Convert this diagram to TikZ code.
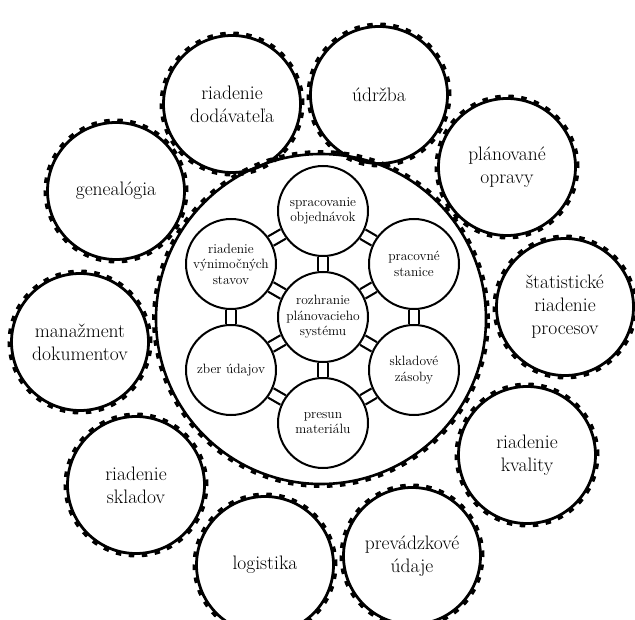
\documentclass[tikz,border=0pt]{standalone}
\usepackage{fontspec}
\usepackage{tikz}
\usetikzlibrary{backgrounds}

\begin{document}
\begin{tikzpicture}[x=1pt, y=-1pt,
    gear/.style={circle, draw, line width=2.8pt, minimum size=137pt, inner sep=0pt,
      align=center, font=\fontsize{19.5}{23}\selectfont},
    teeth/.style={line width=4pt, dash pattern=on 5.5pt off 7.5pt},
    hub/.style={circle, draw, line width=2.6pt, minimum size=330pt},
    cell/.style={circle, draw, fill=white, line width=2pt, minimum size=90pt, inner sep=0pt,
      align=center, font=\fontsize{13.5}{15.5}\selectfont},
    link/.style={double, double distance=8.5pt, line width=2.2pt}]
    \useasboundingbox (0,0) rectangle (635,620);

    % centralny kruh
    \node [hub] (B) at (321,319) {};
    \draw [teeth] (B.center) circle (167pt);

    % vonkajsie kolesa
    \node [gear] (dod) at (232,104) {riadenie\\dodávateľa};
    \node [gear] (udr) at (379,95) {údržba};
    \node [gear] (opr) at (507,167) {plánované\\opravy};
    \node [gear] (spc) at (565,307) {štatistické\\riadenie\\procesov};
    \node [gear] (kva) at (527,455) {riadenie\\kvality};
    \node [gear] (pre) at (412,556) {prevádzkové\\údaje};
    \node [gear] (log) at (265,565) {logistika};
    \node [gear] (skl) at (136,485) {riadenie\\skladov};
    \node [gear] (dok) at (80,342) {manažment\\dokumentov};
    \node [gear] (gen) at (116,191) {genealógia};

    % zuby
    \foreach \g in {dod,udr,opr,spc,kva,pre,log,skl,dok,gen}
      \draw [teeth] (\g.center) circle (70.5pt);

    % vnutorne moduly
    \node [cell] (roz) at (323,317) {rozhranie\\plánovacieho\\systému};
    \node [cell] (obj) at (323,211) {spracovanie\\objednávok};
    \node [cell] (sta) at (414,264) {pracovné\\stanice};
    \node [cell] (zas) at (414,370) {skladové\\zásoby};
    \node [cell] (mat) at (323,423) {presun\\materiálu};
    \node [cell] (zbe) at (231,370) {zber údajov};
    \node [cell] (vyn) at (231,264) {riadenie\\výnimočných\\stavov};

    % spojenia
    \begin{scope}[on background layer]
      \foreach \a/\b in {roz/obj,roz/sta,roz/zas,roz/mat,roz/zbe,roz/vyn,
                         obj/sta,sta/zas,zas/mat,mat/zbe,zbe/vyn,vyn/obj}
        \draw [link] (\a) -- (\b);
    \end{scope}
\end{tikzpicture}
\end{document}
